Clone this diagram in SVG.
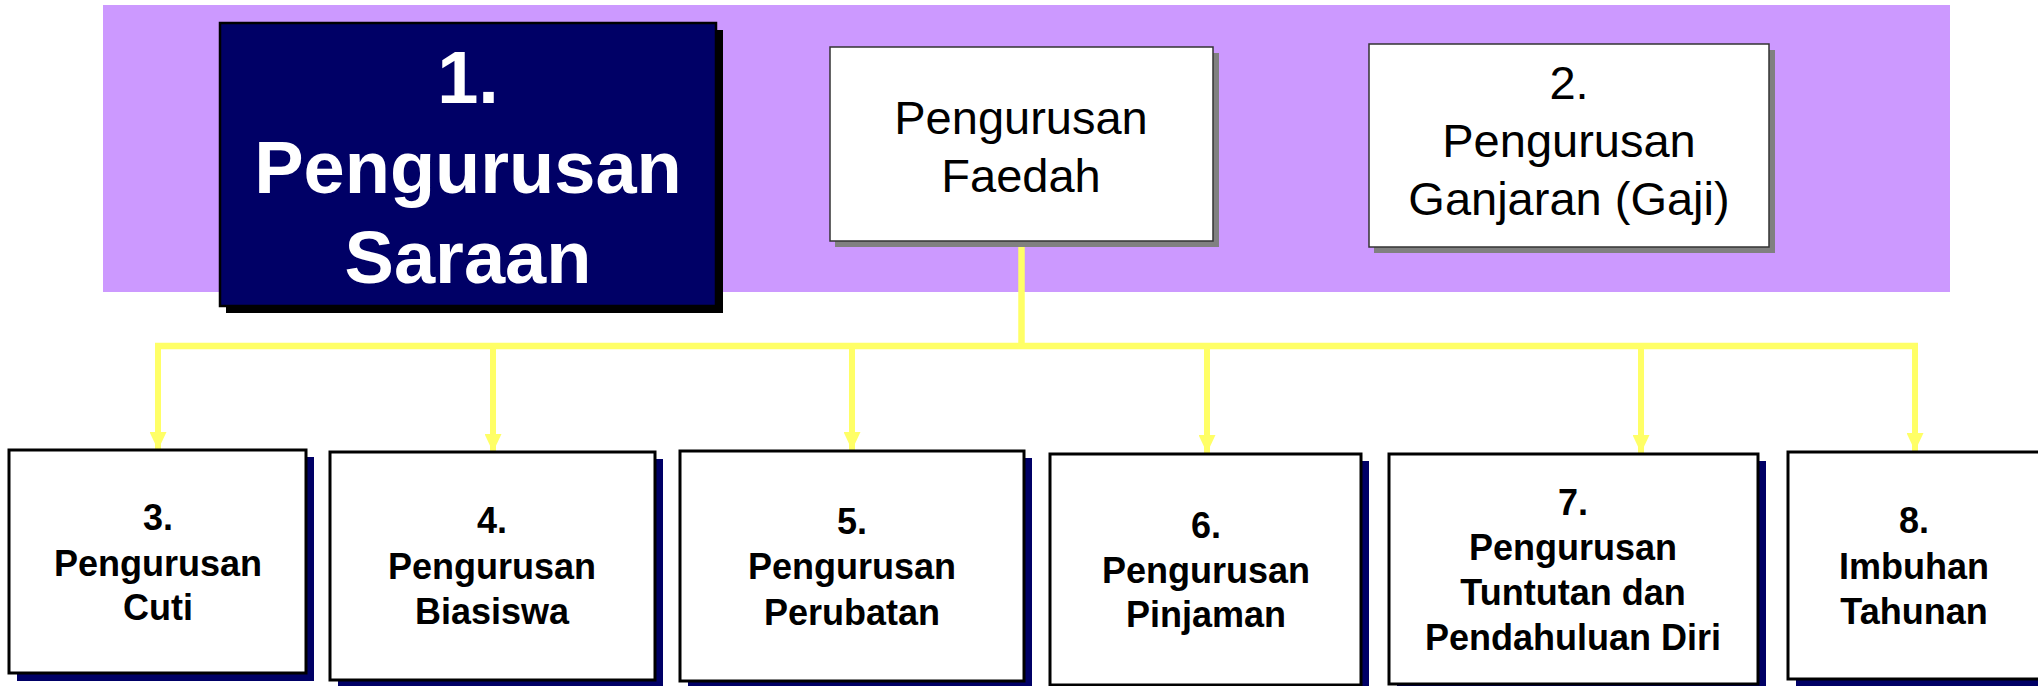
<svg xmlns="http://www.w3.org/2000/svg" width="2038" height="686" viewBox="0 0 2038 686">
<style>
.bold{font-family:"Liberation Sans",Arial,sans-serif;font-weight:bold;text-anchor:middle}
.reg{font-family:"Liberation Sans",Arial,sans-serif;text-anchor:middle;fill:#000}
.big{font-size:74px;fill:#fff}
.mid{font-size:47px}
.sm{font-size:36px;fill:#000}
.top{fill:#fff;stroke:#333;stroke-width:1.5}
.tsh{fill:#808080}
.bot{fill:#fff;stroke:#000;stroke-width:3}
.bsh{fill:#000066}
.con{stroke:#FFFF66;fill:none;stroke-width:6.5}
.drop{stroke:#FFFF66;fill:none;stroke-width:6}
</style>
<defs>
<marker id="ah" viewBox="0 0 18 17" refX="18" refY="8.5" markerWidth="18" markerHeight="17" markerUnits="userSpaceOnUse" orient="auto">
<path d="M0,0 L18,8.5 L0,17 z" fill="#FFFF66"/>
</marker>
</defs>
<rect x="0" y="0" width="2038" height="686" fill="#fff"/>
<rect x="103" y="5" width="1847" height="287" fill="#CC99FF"/>
<g id="connectors">
<path class="con" d="M1021.5,241 V346"/>
<path class="con" d="M155,346 H1918"/>
<path class="drop" d="M158,346 V450" marker-end="url(#ah)"/>
<path class="drop" d="M493,346 V452" marker-end="url(#ah)"/>
<path class="drop" d="M852,346 V450" marker-end="url(#ah)"/>
<path class="drop" d="M1207,346 V453" marker-end="url(#ah)"/>
<path class="drop" d="M1641,346 V453" marker-end="url(#ah)"/>
<path class="drop" d="M1915,346 V451" marker-end="url(#ah)"/>
</g>
<g id="node1">
<rect x="226" y="30" width="497" height="283" fill="#000"/>
<rect x="220" y="23" width="496" height="283" fill="#000066" stroke="#000" stroke-width="2.5"/>
<text class="bold big" x="468" y="103">1.</text>
<text class="bold big" x="468" y="193">Pengurusan</text>
<text class="bold big" x="468" y="283">Saraan</text>
</g>
<g id="node-faedah">
<rect class="tsh" x="835" y="53" width="384" height="194"/>
<rect class="top" x="830" y="47" width="383" height="194"/>
<text class="reg mid" x="1021" y="134">Pengurusan</text>
<text class="reg mid" x="1021" y="192">Faedah</text>
</g>
<g id="node2">
<rect class="tsh" x="1374" y="50" width="401" height="203"/>
<rect class="top" x="1369" y="44" width="400" height="203"/>
<text class="reg mid" x="1569" y="99">2.</text>
<text class="reg mid" x="1569" y="157">Pengurusan</text>
<text class="reg mid" x="1569" y="215">Ganjaran (Gaji)</text>
</g>
<g id="node3">
<rect class="bsh" x="17" y="457" width="297" height="224"/>
<rect class="bot" x="9" y="450" width="297" height="223"/>
<text class="bold sm" x="158" y="530">3.</text>
<text class="bold sm" x="158" y="576">Pengurusan</text>
<text class="bold sm" x="158" y="620">Cuti</text>
</g>
<g id="node4">
<rect class="bsh" x="338" y="459" width="325" height="228"/>
<rect class="bot" x="330" y="452" width="325" height="228"/>
<text class="bold sm" x="492" y="533">4.</text>
<text class="bold sm" x="492" y="579">Pengurusan</text>
<text class="bold sm" x="492" y="624">Biasiswa</text>
</g>
<g id="node5">
<rect class="bsh" x="688" y="458" width="344" height="230"/>
<rect class="bot" x="680" y="451" width="344" height="230"/>
<text class="bold sm" x="852" y="534">5.</text>
<text class="bold sm" x="852" y="579">Pengurusan</text>
<text class="bold sm" x="852" y="625">Perubatan</text>
</g>
<g id="node6">
<rect class="bsh" x="1058" y="461" width="311" height="232"/>
<rect class="bot" x="1050" y="454" width="311" height="231"/>
<text class="bold sm" x="1206" y="538">6.</text>
<text class="bold sm" x="1206" y="583">Pengurusan</text>
<text class="bold sm" x="1206" y="627">Pinjaman</text>
</g>
<g id="node7">
<rect class="bsh" x="1397" y="461" width="369" height="232"/>
<rect class="bot" x="1389" y="454" width="369" height="230"/>
<text class="bold sm" x="1573" y="515">7.</text>
<text class="bold sm" x="1573" y="560">Pengurusan</text>
<text class="bold sm" x="1573" y="605">Tuntutan dan</text>
<text class="bold sm" x="1573" y="650">Pendahuluan Diri</text>
</g>
<g id="node8">
<rect class="bsh" x="1796" y="459" width="260" height="227"/>
<rect class="bot" x="1788" y="452" width="260" height="227"/>
<text class="bold sm" x="1914" y="533">8.</text>
<text class="bold sm" x="1914" y="579">Imbuhan</text>
<text class="bold sm" x="1914" y="624">Tahunan</text>
</g>
</svg>
